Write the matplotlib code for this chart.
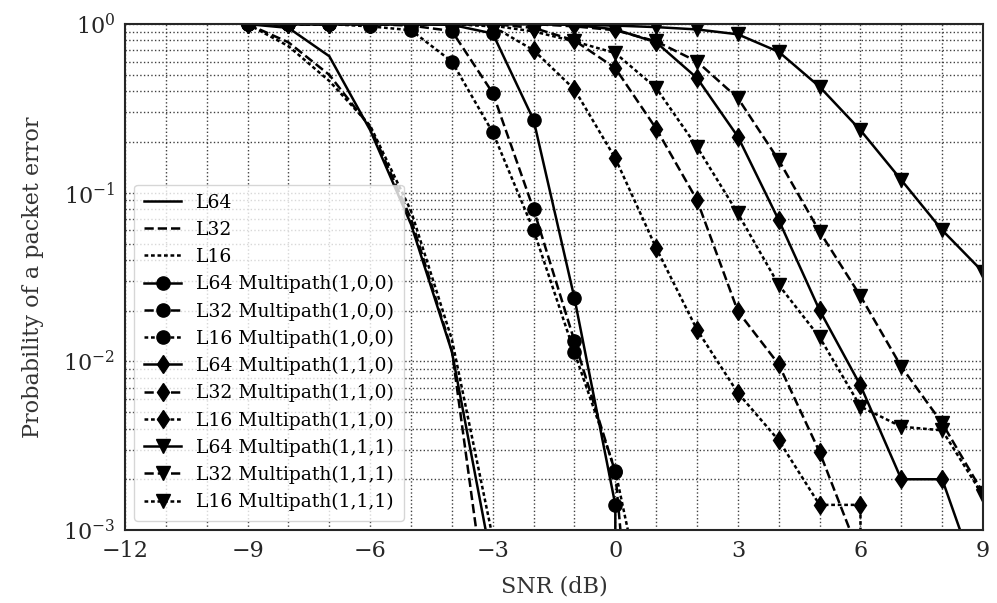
import matplotlib
matplotlib.use('Agg')
import matplotlib.pyplot as plt
from matplotlib.ticker import MultipleLocator, LogLocator

plt.rcParams['font.family'] = ['DejaVu Serif']

# SNR grids (dB)
snr_awgn = [-9, -8, -7, -6, -5, -4, -3]
snr_100 = [-9, -8, -7, -6, -5, -4, -3, -2, -1, 0, 1]
snr_110_l64 = [-9, -8, -7, -6, -5, -4, -3, -2, -1, 0, 1, 2, 3, 4, 5, 6, 7, 8, 9]
snr_110_l32 = [-9, -8, -7, -6, -5, -4, -3, -2, -1, 0, 1, 2, 3, 4, 5, 6]
snr_110_l16 = [-9, -8, -7, -6, -5, -4, -3, -2, -1, 0, 1, 2, 3, 4, 5, 6, 7]
snr_111 = [-9, -8, -7, -6, -5, -4, -3, -2, -1, 0, 1, 2, 3, 4, 5, 6, 7, 8, 9]

# packet error rates, no multipath
per_l64 = [1.0, 0.95, 0.645, 0.235, 0.065, 0.0114, 6e-4]
per_l32 = [1.0, 0.78, 0.50, 0.245, 0.070, 0.0116, 1.9e-4]
per_l16 = [1.0, 0.74, 0.46, 0.25, 0.078, 0.0135, 9e-4]

# multipath (1,0,0)
per_100_l64 = [1.0, 1.0, 1.0, 1.0, 1.0, 0.99, 0.88, 0.27, 0.0237, 1.41e-3, 0.0]
per_100_l32 = [1.0, 1.0, 1.0, 1.0, 0.98, 0.91, 0.39, 0.0797, 0.0132, 2.2e-3, 4e-6]
per_100_l16 = [1.0, 1.0, 1.0, 0.97, 0.92, 0.60, 0.228, 0.060, 0.0113, 2.25e-3, 1.6e-4]

# multipath (1,1,0)
per_110_l64 = [1.0, 1.0, 1.0, 1.0, 1.0, 1.0, 1.0, 1.0, 0.99, 0.93, 0.78, 0.479, 0.215,
               0.0688, 0.0201, 7.2e-3, 2.0e-3, 2.0e-3, 4.1e-4]
per_110_l32 = [1.0, 1.0, 1.0, 1.0, 1.0, 1.0, 1.0, 0.95, 0.80, 0.548, 0.24, 0.0904, 0.0198,
               9.6e-3, 2.9e-3, 6.9e-4]
per_110_l16 = [1.0, 1.0, 1.0, 1.0, 1.0, 1.0, 0.97, 0.70, 0.41, 0.16, 0.047, 0.0154, 6.5e-3,
               3.4e-3, 1.41e-3, 1.41e-3, 0.0]

# multipath (1,1,1)
per_111_l64 = [1.0, 1.0, 1.0, 1.0, 1.0, 1.0, 1.0, 1.0, 0.99, 0.98, 0.96, 0.93, 0.87,
               0.685, 0.425, 0.235, 0.119, 0.060, 0.0339]
per_111_l32 = [1.0, 1.0, 1.0, 1.0, 1.0, 1.0, 1.0, 1.0, 0.97, 0.92, 0.79, 0.60, 0.364,
               0.156, 0.0588, 0.0244, 9.3e-3, 4.3e-3, 1.66e-3]
per_111_l16 = [1.0, 1.0, 1.0, 1.0, 1.0, 1.0, 0.98, 0.905, 0.79, 0.673, 0.418, 0.187, 0.0754,
               0.0284, 0.0139, 5.4e-3, 4.1e-3, 3.9e-3, 1.6e-3]

series = [
    (snr_awgn, per_l64, '-', None, 'L64'),
    (snr_awgn, per_l32, '--', None, 'L32'),
    (snr_awgn, per_l16, ':', None, 'L16'),
    (snr_100, per_100_l64, '-', 'o', 'L64 Multipath(1,0,0)'),
    (snr_100, per_100_l32, '--', 'o', 'L32 Multipath(1,0,0)'),
    (snr_100, per_100_l16, ':', 'o', 'L16 Multipath(1,0,0)'),
    (snr_110_l64, per_110_l64, '-', 'd', 'L64 Multipath(1,1,0)'),
    (snr_110_l32, per_110_l32, '--', 'd', 'L32 Multipath(1,1,0)'),
    (snr_110_l16, per_110_l16, ':', 'd', 'L16 Multipath(1,1,0)'),
    (snr_111, per_111_l64, '-', 'v', 'L64 Multipath(1,1,1)'),
    (snr_111, per_111_l32, '--', 'v', 'L32 Multipath(1,1,1)'),
    (snr_111, per_111_l16, ':', 'v', 'L16 Multipath(1,1,1)'),
]

fig = plt.figure(figsize=(9.97, 6.03), dpi=100)
ax = fig.add_axes([0.1254, 0.121, 0.8606, 0.839])

for x, y, ls, mk, label in series:
    if ls == ':':
        ls = (0, (1.5, 1.1))
    ax.plot(x, y, color='black', linestyle=ls, linewidth=1.8,
            marker=mk, markersize=9.5, label=label)

ax.set_yscale('log')
ax.set_xlim(-12, 9)
ax.set_ylim(1e-3, 1)
ax.xaxis.set_major_locator(MultipleLocator(3))
ax.xaxis.set_minor_locator(MultipleLocator(1))
ax.yaxis.set_minor_locator(LogLocator(base=10, subs=range(2, 10)))
ax.grid(True, which='both', color='0.25', linestyle=':', linewidth=1)
ax.tick_params(which='both', length=0, pad=7, labelcolor='0.15', labelsize=16)
for s in ax.spines.values():
    s.set_color('0.15')
    s.set_linewidth(1.5)

ax.set_xlabel('SNR (dB)', fontsize=16, color='0.2', labelpad=10)
ax.set_ylabel('Probability of a packet error', fontsize=16, color='0.2', labelpad=14)
ax.legend(loc='lower left', fontsize=13.5, labelspacing=0.48, framealpha=0.8,
          edgecolor='0.8', borderpad=0.5)

fig.savefig('out.png', dpi=100)
